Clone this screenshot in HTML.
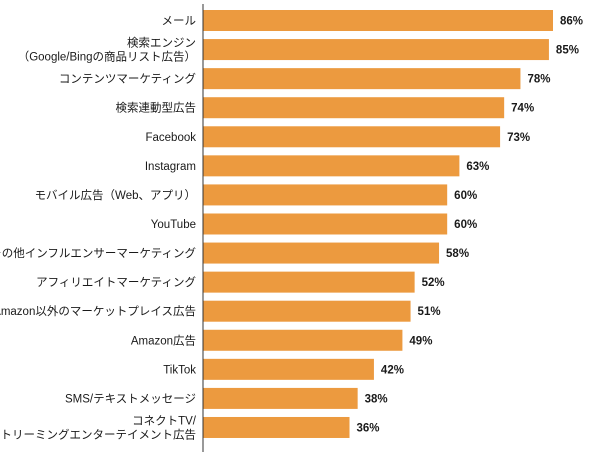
<!DOCTYPE html>
<html><head><meta charset="utf-8"><style>
html,body{margin:0;padding:0;background:#fff;}
svg{display:block;}
text{font-family:"Liberation Sans","Noto Sans CJK JP",sans-serif;fill:#1a1a1a;}
</style></head><body>
<svg id="chart" width="600" height="452"></svg>
<script>
const categories = [["メール"],["検索エンジン","（Google/Bingの商品リスト広告）"],["コンテンツマーケティング"],["検索連動型広告"],["Facebook"],["Instagram"],["モバイル広告（Web、アプリ）"],["YouTube"],["その他インフルエンサーマーケティング"],["アフィリエイトマーケティング"],["Amazon以外のマーケットプレイス広告"],["Amazon広告"],["TikTok"],["SMS/テキストメッセージ"],["コネクトTV/","ストリーミングエンターテイメント広告"]];
const values = [86,85,78,74,73,63,60,60,58,52,51,49,42,38,36];
const valueLabels = ["86%","85%","78%","74%","73%","63%","60%","60%","58%","52%","51%","49%","42%","38%","36%"];

const NS="http://www.w3.org/2000/svg";
const svg=document.getElementById('chart');
const x0=203, pxPer=350/86;
const xScale=v=>x0+v*pxPer;
const yCenter=i=>20.5+i*29.07;
const barH=21;
function mk(tag,attrs){const e=document.createElementNS(NS,tag);for(const k in attrs)e.setAttribute(k,attrs[k]);svg.appendChild(e);return e;}
values.forEach((v,i)=>{
  const yc=yCenter(i);
  const r=mk('rect',{x:x0,y:yc-barH/2,width:xScale(v)-x0,height:barH,fill:'#EC9A3F'});
  
  
  const t=mk('text',{x:xScale(v)+7,y:yc+4,'font-size':'11.5','font-weight':'bold'});
  t.textContent=valueLabels[i];
  
  
  const lines=categories[i];
  lines.forEach((ln,j)=>{
    const dy=lines.length===1?4:(j===0?-3:11);
    const c=mk('text',{x:196,y:yc+dy,'font-size':'11.5','text-anchor':'end'});
    c.textContent=ln;
    
    
  });
});
const ax=mk('line',{x1:x0,y1:4,x2:x0,y2:452,stroke:'#333','stroke-width':1});


</script>
</body></html>
